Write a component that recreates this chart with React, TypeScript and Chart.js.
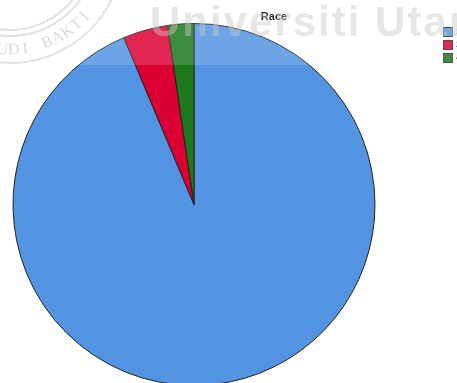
import React, { useEffect, useRef } from "react";
import { Chart, registerables } from "chart.js";

Chart.register(...registerables);

const categories = ["1", "2", "4"];
const counts = [281, 12, 7];
const colors = ["#5394E2", "#DC0032", "#1E781E"];
const titleText = "Race";
const watermarkText = "Universiti Utara Malaysia";
const sealText = "BUDI BAKTI";

const overlayPlugin = {
  id: "overlayPlugin",
  afterDraw(chart: any) {
    const ctx = chart.ctx as CanvasRenderingContext2D;
    ctx.save();
    // legend
    const labels = chart.data.labels as string[];
    const bg = chart.data.datasets[0].backgroundColor as string[];
    labels.forEach((lab, i) => {
      const y = 27 + i * 13;
      ctx.fillStyle = bg[i];
      ctx.fillRect(443, y, 10, 10);
      ctx.strokeStyle = "#333";
      ctx.lineWidth = 1;
      ctx.strokeRect(443.5, y + 0.5, 9, 9);
      ctx.fillStyle = "#000";
      ctx.font = "9px Arial, 'Liberation Sans', sans-serif";
      ctx.textAlign = "left";
      ctx.textBaseline = "middle";
      ctx.fillText(lab, 456, y + 5);
    });
    // title
    ctx.fillStyle = "#000";
    ctx.font = "bold 11px Arial, 'Liberation Sans', sans-serif";
    ctx.textAlign = "center";
    ctx.textBaseline = "middle";
    ctx.fillText(titleText, 274, 17);
    // watermark band
    ctx.fillStyle = "rgba(255,255,255,0.15)";
    ctx.fillRect(0, 0, chart.width, 65);
    // watermark text
    ctx.fillStyle = "rgba(200,200,200,0.45)";
    ctx.font = "bold 42px Arial, 'Liberation Sans', sans-serif";
    ctx.textAlign = "left";
    ctx.textBaseline = "alphabetic";
    try { (ctx as any).letterSpacing = "2px"; } catch (e) {}
    ctx.fillText(watermarkText, 150, 36);
    try { (ctx as any).letterSpacing = "0px"; } catch (e) {}
    // seal
    const cx = 10, cy = -50;
    ctx.strokeStyle = "rgba(195,195,195,0.5)";
    ctx.lineWidth = 2;
    [113, 86, 80].forEach((r) => {
      ctx.beginPath();
      ctx.arc(cx, cy, r, 0, Math.PI);
      ctx.stroke();
    });
    ctx.fillStyle = "rgba(185,185,185,0.55)";
    ctx.font = "16px 'Liberation Serif', 'DejaVu Serif', serif";
    ctx.textAlign = "center";
    ctx.textBaseline = "middle";
    const chars = sealText.split("");
    const start = 101;
    const step = 6.6;
    chars.forEach((ch, i) => {
      const th = ((start - i * step) * Math.PI) / 180;
      const r = 100;
      const x = cx + r * Math.cos(th);
      const y = cy + r * Math.sin(th);
      ctx.save();
      ctx.translate(x, y);
      ctx.rotate(th - Math.PI / 2);
      ctx.fillText(ch, 0, 0);
      ctx.restore();
    });
    ctx.restore();
  },
};

export default function App() {
  const ref = useRef<HTMLCanvasElement | null>(null);
  useEffect(() => {
    if (!ref.current) return;
    const chart = new Chart(ref.current, {
      type: "pie",
      data: {
        labels: categories,
        datasets: [
          {
            data: counts,
            backgroundColor: colors,
            borderColor: "#222",
            borderWidth: 1,
          },
        ],
      },
      options: {
        responsive: false,
        maintainAspectRatio: false,
        animation: false,
        layout: { padding: { left: 12, right: 81, top: 23, bottom: 14 } },
        plugins: {
          legend: { display: false },
          title: { display: false },
          tooltip: { enabled: false },
        },
      },
      plugins: [overlayPlugin],
    });
    return () => chart.destroy();
  }, []);
  return (
    <div
      style={{
        position: "absolute",
        left: 0,
        top: 0,
        width: 457,
        height: 383,
        overflow: "hidden",
        background: "#fff",
      }}
    >
      <canvas ref={ref} width={457} height={400} style={{ display: "block" }} />
    </div>
  );
}
